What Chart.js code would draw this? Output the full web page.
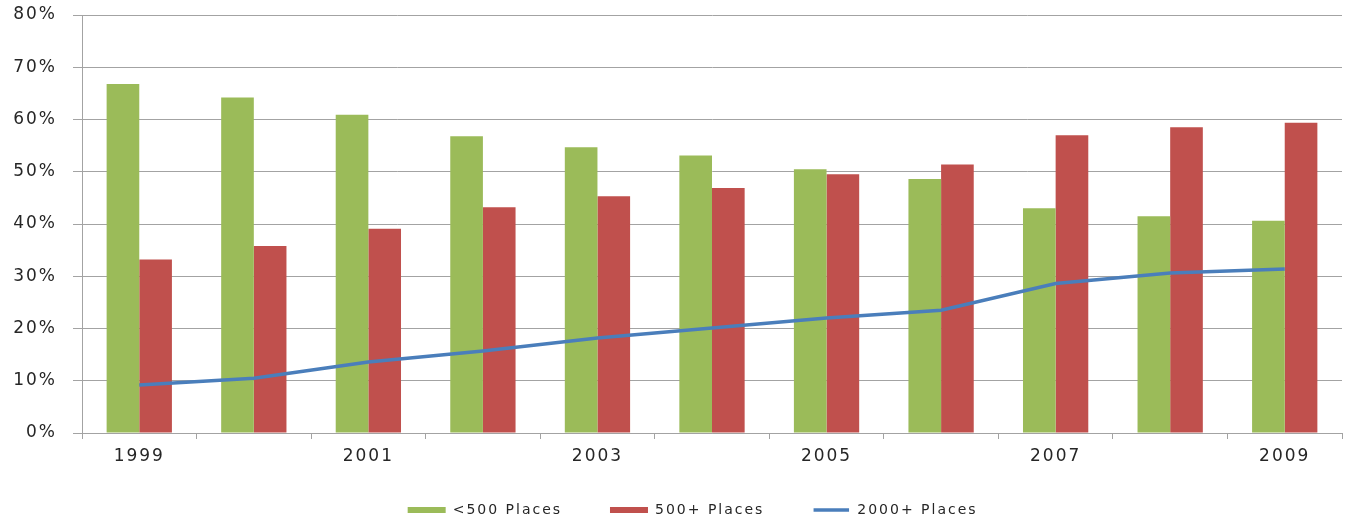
<!DOCTYPE html>
<html>
<head>
<meta charset="utf-8">
<script src="https://cdn.jsdelivr.net/npm/chart.js@4"></script>
<style>
  html, body { margin: 0; padding: 0; background: #ffffff; }
  canvas { display: block; }
</style>
</head>
<body>
<canvas id="chart" width="1353" height="522"></canvas>
<script>
// Share of places by size band, per year (percent)
const years = ['1999', '2000', '2001', '2002', '2003', '2004', '2005', '2006', '2007', '2008', '2009'];
const under500 = [66.8, 64.2, 60.9, 56.8, 54.7, 53.1, 50.5, 48.6, 43.0, 41.5, 40.6];
const over500 = [33.2, 35.8, 39.1, 43.2, 45.3, 46.9, 49.5, 51.4, 57.0, 58.5, 59.4];
const over2000 = [9.2, 10.5, 13.6, 15.7, 18.2, 20.1, 22.0, 23.5, 28.6, 30.6, 31.4];
const seriesNames = ['<500 Places', '500+ Places', '2000+ Places'];
const yMax = 80;
const yStep = 10;

const textColor = '#262626';
const gridColor = '#a3a3a3';
const fontFamily = 'DejaVu Sans';
// extra trailing room after each legend entry (in spaces)
const legendTrail = [2, 2, 6];

// Wide letter spacing for all canvas text
const textSpacing = {
  id: 'textSpacing',
  beforeUpdate(chart) { chart.ctx.letterSpacing = '2px'; },
  beforeDraw(chart) { chart.ctx.letterSpacing = '2px'; }
};

const ctx = document.getElementById('chart').getContext('2d');
new Chart(ctx, {
  type: 'bar',
  data: {
    labels: years,
    datasets: [
      {
        label: seriesNames[0],
        data: under500,
        backgroundColor: '#9BBB59',
        borderWidth: 0,
        categoryPercentage: 0.57,
        barPercentage: 1,
        order: 1
      },
      {
        label: seriesNames[1],
        data: over500,
        backgroundColor: '#C0504D',
        borderWidth: 0,
        categoryPercentage: 0.57,
        barPercentage: 1,
        order: 1
      },
      {
        type: 'line',
        label: seriesNames[2],
        data: over2000,
        borderColor: '#4A7EBB',
        backgroundColor: '#4A7EBB',
        borderWidth: 3.5,
        pointRadius: 0,
        tension: 0,
        fill: false,
        order: 0
      }
    ]
  },
  options: {
    responsive: false,
    animation: false,
    devicePixelRatio: 1,
    layout: { padding: { left: 0, right: 11, top: 15, bottom: -5 } },
    plugins: {
      tooltip: { enabled: false },
      legend: {
        position: 'bottom',
        fullSize: false,
        labels: {
          color: textColor,
          font: { family: fontFamily, size: 14 },
          boxWidth: 38,
          boxHeight: 6,
          padding: 35,
          sort: (a, b) => a.datasetIndex - b.datasetIndex,
          generateLabels(chart) {
            const items = Chart.defaults.plugins.legend.labels.generateLabels(chart);
            items.forEach(item => {
              const ds = chart.data.datasets[item.datasetIndex];
              item.text = ds.label + ' '.repeat(legendTrail[item.datasetIndex]);
              if (ds.type === 'line') {
                // thin line swatch: white outline trims the box to a stroke
                item.fillStyle = ds.borderColor;
                item.strokeStyle = '#ffffff';
                item.lineWidth = 2.5;
              } else {
                item.lineWidth = 0;
              }
            });
            return items;
          }
        }
      }
    },
    scales: {
      x: {
        offset: true,
        grid: {
          display: true,
          offset: true,
          drawOnChartArea: false,
          drawTicks: true,
          tickLength: 6,
          color: gridColor
        },
        border: { display: true, color: gridColor, width: 1 },
        ticks: {
          autoSkip: false,
          maxRotation: 0,
          padding: 7,
          color: textColor,
          font: { family: fontFamily, size: 17 },
          callback(value, index) { return index % 2 === 0 ? years[index] : ''; }
        },
        afterFit(scale) { scale.height = 35; }
      },
      y: {
        min: 0,
        max: yMax,
        grid: { color: gridColor, tickLength: 9, drawTicks: true },
        border: { display: true, color: gridColor, width: 1 },
        ticks: {
          stepSize: yStep,
          padding: 16,
          color: textColor,
          font: { family: fontFamily, size: 17 },
          callback(value) { return value + '%'; }
        },
        afterFit(scale) {
          scale.width = 82;
          scale.paddingTop = 0;
          scale.paddingBottom = 0;
        }
      }
    }
  },
  plugins: [textSpacing]
});
</script>
</body>
</html>
